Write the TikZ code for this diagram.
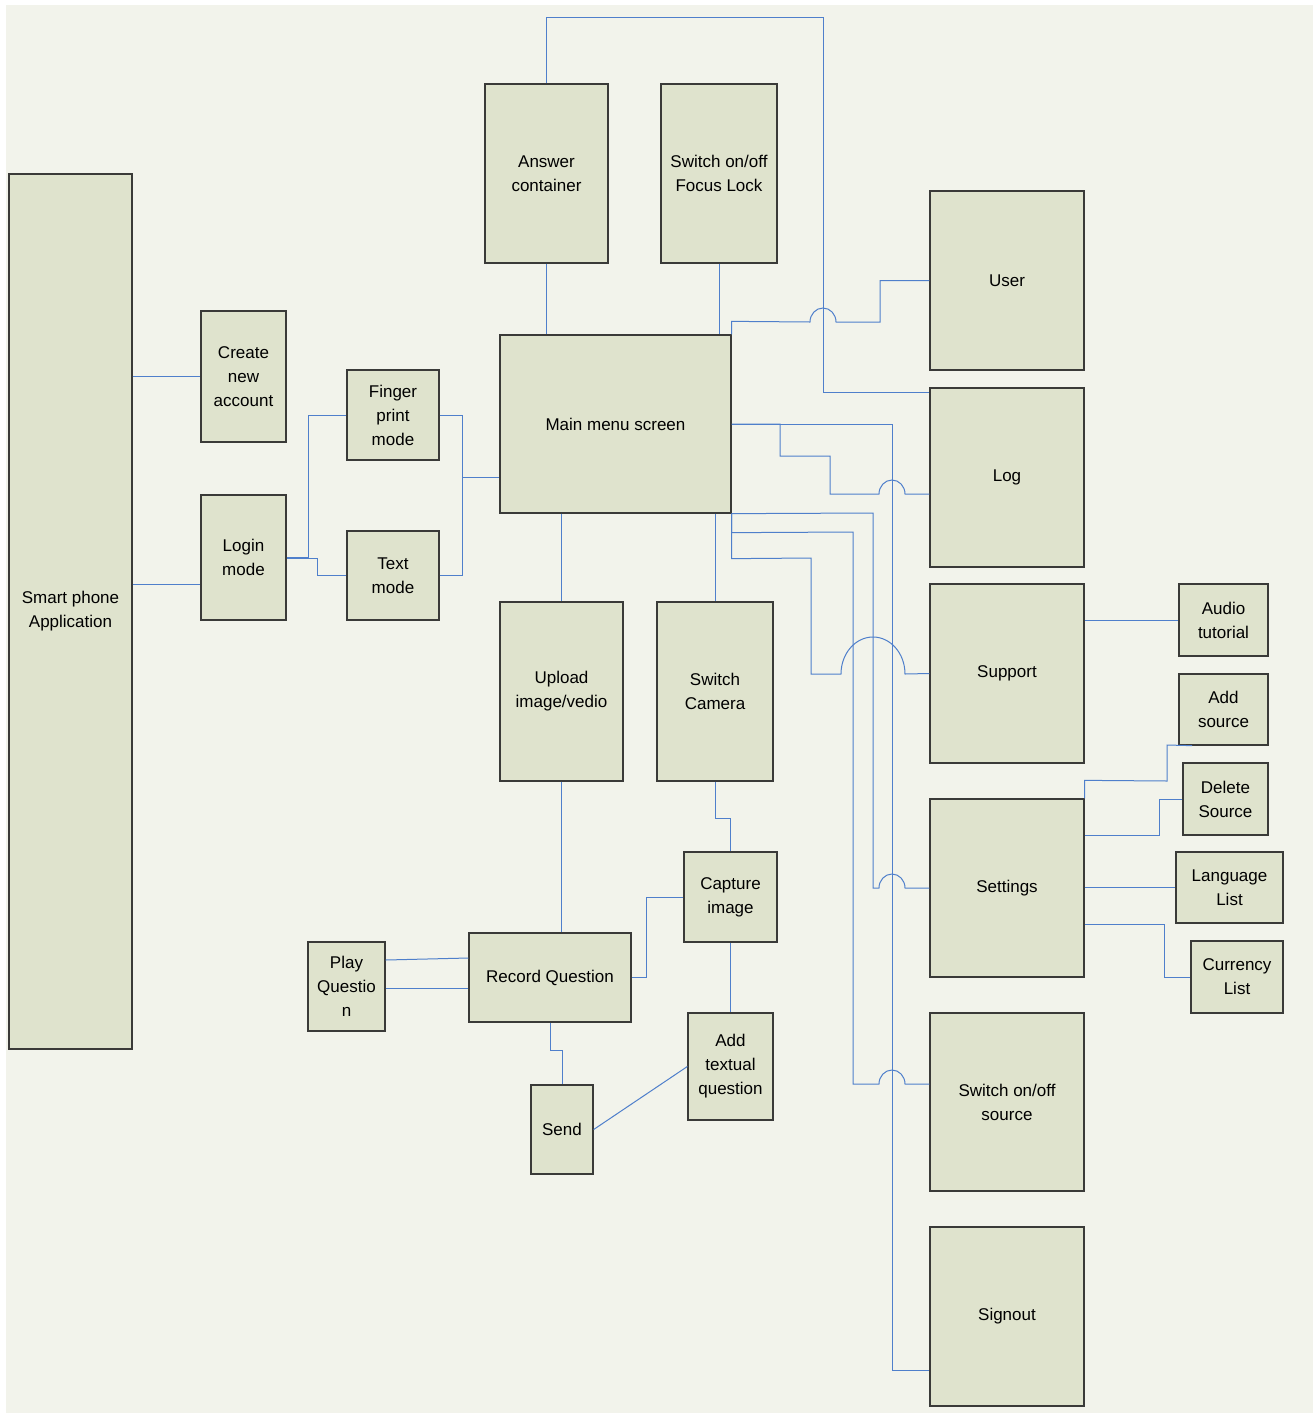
\documentclass[tikz,border=0pt]{standalone}
\usepackage{fontspec}
\setmainfont{Liberation Sans}
\usepackage{xcolor}
\usetikzlibrary{positioning,calc}
\definecolor{paper}{HTML}{F2F3EB}
\definecolor{boxfill}{HTML}{DFE3CD}
\definecolor{boxline}{HTML}{3A3A38}
\definecolor{wire}{HTML}{4F7FCB}

\begin{document}
\begin{tikzpicture}[x=1pt, y=-1pt,
  box/.style={draw=boxline, line width=1.3pt, fill=boxfill, inner sep=0pt,
              align=center, font=\fontsize{17}{24}\selectfont},
  dims/.style 2 args={minimum width=#1pt, minimum height=#2pt},
  link/.style={draw=wire, line width=1pt},
  hop/.style={start angle=180, end angle=360, x radius=13, y radius=14}]
\useasboundingbox (0,0) rectangle (1315,1414);
\fill[white] (0,0) rectangle (1315,1414);
\fill[paper] (6,5) rectangle (1313,1413);

% ---------- left column
\node[box, dims={123}{875}] (phone) at (70.5,611.5) {Smart phone\\Application};
\node[box, dims={85}{131}] (create) at (243.5,376.5) {Create\\new\\account};
\node[box, dims={85}{125}] (login) at (243.5,557.5) {Login\\mode};
\node[box, dims={92}{90}] (finger) at (393,415) {Finger\\print\\mode};
\node[box, dims={92}{89}] (textm) at (393,575.5) {Text\\mode};

% ---------- middle column
\node[box, dims={123}{179}] (answer) at (546.5,173.5) {Answer\\container};
\node[box, dims={116}{179}] (focus) at (719,173.5) {Switch on/off\\Focus Lock};
\node[box, dims={231}{178}] (main) at (615.5,424) {Main menu screen};
\node[box, dims={123}{179}] (upload) at (561.5,691.5) {Upload\\image/vedio};
\node[box, dims={116}{179}] (camera) at (715,691.5) {Switch\\Camera};
\node[box, dims={93}{90}] (capture) at (730.5,897) {Capture\\image};
\node[box, dims={162}{89}] (record) at (550,977.5) {Record Question};
\node[box, dims={77}{89}] (play) at (346.5,986.5) {Play\\Questio\\n};
\node[box, dims={62}{89}] (send) at (562,1129.5) {Send};
\node[box, dims={85}{107}] (textual) at (730.5,1066.5) {Add\\textual\\question};

% ---------- right column
\node[box, dims={154}{179}] (user) at (1007,280.5) {User};
\node[box, dims={154}{179}] (log) at (1007,477.5) {Log};
\node[box, dims={154}{179}] (support) at (1007,673.5) {Support};
\node[box, dims={154}{178}] (settings) at (1007,888) {Settings};
\node[box, dims={154}{178}] (source) at (1007,1102) {Switch on/off\\source};
\node[box, dims={154}{179}] (signout) at (1007,1316.5) {Signout};
\node[box, dims={89}{72}] (audio) at (1223.5,620) {Audio\\tutorial};
\node[box, dims={89}{71}] (addsrc) at (1223.5,709.5) {Add\\source};
\node[box, dims={85}{72}] (delsrc) at (1225.5,799) {Delete\\Source};
\node[box, dims={107}{71}] (lang) at (1229.5,887.5) {Language\\List};
\node[box, dims={92}{72}] (curr) at (1237,977) {Currency\\List};

% ---------- login branch
\draw[link] (phone.east |- create.west) -- (create.west);
\draw[link] (phone.east |- 0,584) -- (login.west |- 0,584);
\draw[link] (login.east |- 0,557) -- (308,557) |- (finger.west);
\draw[link] (login.east |- 0,558) -- (317,558) |- (textm.west);
\draw[link] (finger.east) -- (462,415) |- (main.west |- 0,477);
\draw[link] (textm.east) -| (462,477);

% ---------- main menu, up and down
\draw[link] (answer.south) -- (answer.south |- main.north);
\draw[link] (focus.south) -- (focus.south |- main.north);
\draw[link] (main.south -| upload.north) -- (upload.north);
\draw[link] (main.south -| camera.north) -- (camera.north);
\draw[link] (upload.south) -- (upload.south |- record.north);
\draw[link] (camera.south) -- ++(0,37) -| (capture.north);
\draw[link] (capture.west) -- (646,897) |- (record.east);
\draw[link] (capture.south) -- (textual.north);
\draw[link] (play.east |- 0,960) -- (record.west |- 0,958);
\draw[link] (play.east |- 0,988) -- (record.west |- 0,988);
\draw[link] (record.south) -- ++(0,28) -| (send.north);
\draw[link] (send.east) -- (textual.west);

% ---------- main menu, to the right
\draw[link] (answer.north) -- ++(0,-66) -| (823,392) -- (log.west |- 0,392);
\draw[link] (main.north east) -- ++(0,-13) -- (810,322) arc[hop]
  -- (880,322) |- (user.west);
\draw[link] (main.east |- 0,424) -- (780,424) |- (830,456) |- (879,494)
  arc[hop] -- (log.west |- 0,494);
\draw[link] (main.east |- 0,424) -- (892,424) |- (signout.west |- 0,1370);
\draw[link] (main.south east) -- (873,513) |- (879,888) arc[hop] -- (settings.west);
\draw[link] (main.south east) -- ++(0,19) -- (853,532) |- (879,1084)
  arc[hop] -- (source.west |- 0,1084);
\draw[link] (main.south east) -- ++(0,45) -- (811,558) |- (841,674)
  arc[start angle=180, end angle=360, x radius=32, y radius=37] -- (support.west);

% ---------- support and settings
\draw[link] (support.east |- audio.west) -- (audio.west);
\draw[link] (settings.north east) -- ++(0,-18) -- (1167,781) -- (1167,745)
  -- (addsrc.south -| 1192,0);
\draw[link] (settings.east |- 0,835) -- (1159,835) |- (delsrc.west);
\draw[link] (settings.east |- lang.west) -- (lang.west);
\draw[link] (settings.east |- 0,924) -- (1164,924) |- (curr.west);
\end{tikzpicture}
\end{document}
